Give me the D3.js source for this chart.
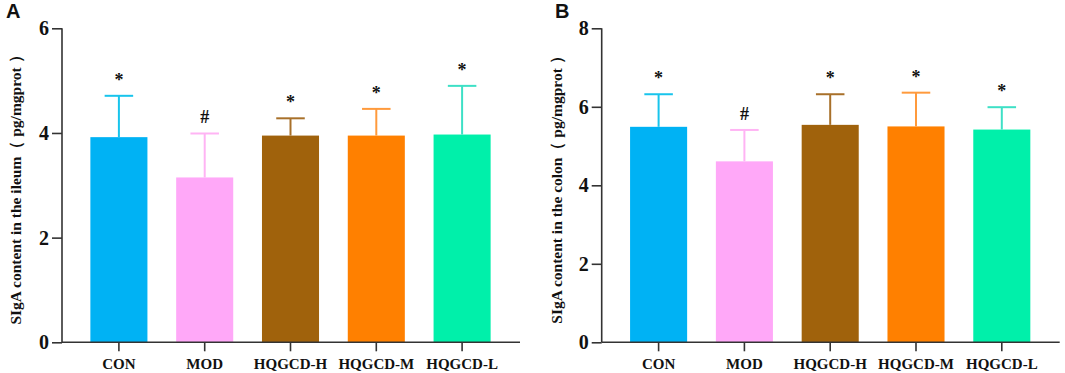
<!DOCTYPE html>
<html>
<head>
<meta charset="utf-8">
<script src="https://cdn.jsdelivr.net/npm/d3@7"></script>
<style>
  body { margin: 0; background: #fff; }
  svg text { font-family: "Liberation Serif", "Times New Roman", serif; font-weight: bold; fill: #111; }
  .panelLabel { font-family: "Liberation Sans", Arial, sans-serif; font-size: 20px; }
</style>
</head>
<body>
<div id="chart"></div>
<script>
// groups and colours
const groups = ["CON", "MOD", "HQGCD-H", "HQGCD-M", "HQGCD-L"];
const barColors = ["#00B2F4", "#FFA8F8", "#A0620C", "#FF8000", "#00F0AA"];
const errColors = ["#18C4EC", "#FFB4F4", "#A8702A", "#FF9A3C", "#3EE0C6"];

// panel A: ileum
const ileumMean = [3.92, 3.15, 3.95, 3.95, 3.97];
const ileumUpper = [4.71, 3.99, 4.28, 4.46, 4.90];
const ileumMarks = ["*", "#", "*", "*", "*"];
const ileumTicks = [0, 2, 4, 6];

// panel B: colon
const colonMean = [5.49, 4.61, 5.54, 5.50, 5.42];
const colonUpper = [6.32, 5.41, 6.32, 6.36, 5.99];
const colonMarks = ["*", "#", "*", "*", "*"];
const colonTicks = [0, 2, 4, 6, 8];

const svg = d3.select("#chart").append("svg")
    .attr("width", 1065)
    .attr("height", 373);

function drawPanel(p) {
    let g = svg.append("g").attr("transform", "translate(" + p.left + ",0)");

    let yScale = d3.scaleLinear()
        .domain([0, d3.max(p.ticks)])
        .range([342.3, 28.3]);

    let xScale = d3.scaleBand()
        .domain(groups)
        .range([14, 443])
        .paddingInner(0.335)
        .paddingOuter(0.1675);

    // bars
    g.selectAll(".bar")
        .data(groups)
        .join("rect")
        .attr("class", "bar")
        .attr("x", d => xScale(d))
        .attr("width", xScale.bandwidth())
        .attr("y", (d, i) => yScale(p.mean[i]))
        .attr("height", (d, i) => yScale(0) - yScale(p.mean[i]))
        .attr("fill", (d, i) => barColors[i]);

    // error bars (upper only)
    let cap = xScale.bandwidth() / 2;
    let err = g.selectAll(".err")
        .data(groups)
        .join("g")
        .attr("class", "err")
        .attr("stroke", (d, i) => errColors[i])
        .attr("stroke-width", 2);
    err.append("line")
        .attr("x1", d => xScale(d) + xScale.bandwidth() / 2)
        .attr("x2", d => xScale(d) + xScale.bandwidth() / 2)
        .attr("y1", (d, i) => yScale(p.mean[i]))
        .attr("y2", (d, i) => yScale(p.upper[i]));
    err.append("line")
        .attr("x1", d => xScale(d) + xScale.bandwidth() / 2 - cap / 2)
        .attr("x2", d => xScale(d) + xScale.bandwidth() / 2 + cap / 2)
        .attr("y1", (d, i) => yScale(p.upper[i]))
        .attr("y2", (d, i) => yScale(p.upper[i]));

    // significance marks
    g.selectAll(".mark")
        .data(groups)
        .join("text")
        .attr("class", "mark")
        .attr("x", d => xScale(d) + xScale.bandwidth() / 2)
        .attr("y", (d, i) => yScale(p.upper[i]) - 10)
        .attr("text-anchor", "middle")
        .style("font-size", "18px")
        .style("fill", "#111")
        .text((d, i) => p.marks[i]);

    // y axis
    let yAxis = g.append("g")
        .call(d3.axisLeft(yScale).tickValues(p.ticks).tickSize(10).tickPadding(3).tickFormat(d3.format("d")));
    yAxis.select(".domain").attr("d", "M0," + yScale(d3.max(p.ticks)) + "V" + yScale(0));
    yAxis.selectAll("path, line").attr("stroke", "#333").attr("stroke-width", 1.6);
    yAxis.selectAll("text").style("font-size", "20px").attr("font-family", null).attr("fill", "#111");

    // x axis
    let xAxis = g.append("g")
        .attr("transform", "translate(0," + yScale(0) + ")")
        .call(d3.axisBottom(xScale).tickSize(9).tickPadding(7).tickSizeOuter(0));
    xAxis.select(".domain").attr("d", "M0,0H" + p.axisEnd);
    xAxis.selectAll("path, line").attr("stroke", "#333").attr("stroke-width", 1.6);
    xAxis.selectAll("text").style("font-size", "15px").attr("font-family", null).attr("fill", "#111");

    // y axis title
    g.append("text")
        .attr("transform", "translate(" + p.titleX + "," + 186 + ") rotate(-90)")
        .attr("text-anchor", "middle")
        .style("font-size", "15.5px")
        .text(p.title);

    // panel label
    svg.append("text")
        .attr("class", "panelLabel")
        .attr("x", p.labelX)
        .attr("y", 18)
        .text(p.label);
}

drawPanel({
    left: 62, mean: ileumMean, upper: ileumUpper, marks: ileumMarks, ticks: ileumTicks,
    axisEnd: 458, titleX: -41, labelX: 6, label: "A",
    title: "SIgA content in the ileum\uFF08 pg/mgprot \uFF09"
});
drawPanel({
    left: 601.7, mean: colonMean, upper: colonUpper, marks: colonMarks, ticks: colonTicks,
    axisEnd: 458, titleX: -40, labelX: 555, label: "B",
    title: "SIgA content in the colon\uFF08 pg/mgprot \uFF09"
});
</script>
</body>
</html>
